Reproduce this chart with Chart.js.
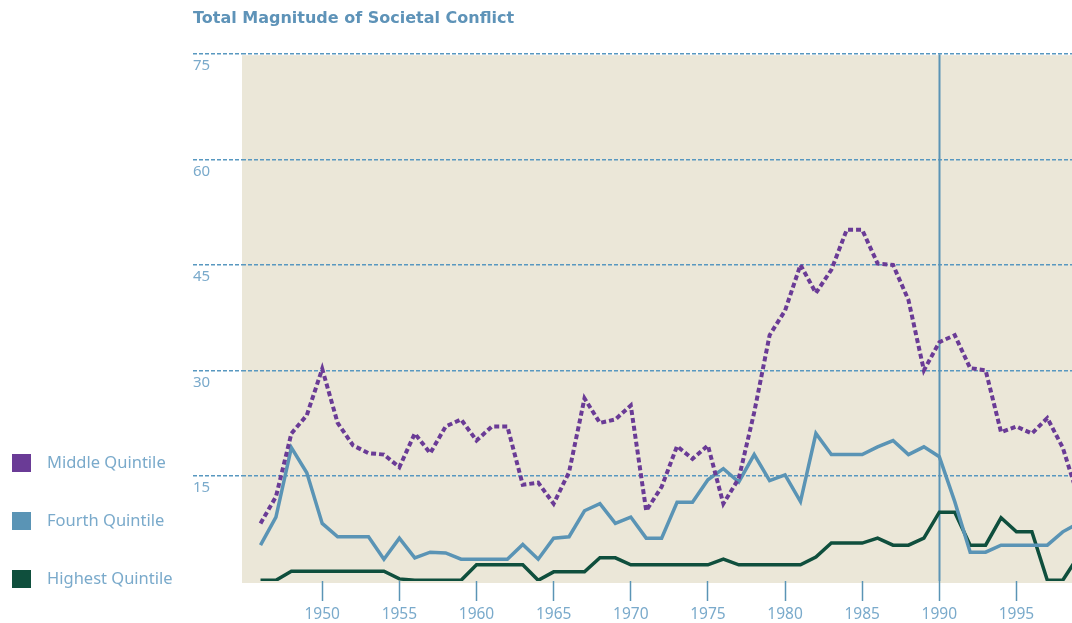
<!DOCTYPE html>
<html><head><meta charset="utf-8">
<style>html,body{margin:0;padding:0;background:#fff;}#wrap{width:1072px;height:623px;position:relative;overflow:hidden;}</style>
<script src="https://cdn.jsdelivr.net/npm/chart.js@4.4.1/dist/chart.umd.min.js"></script>
</head><body><div id="wrap"><canvas id="c" width="1072" height="623"></canvas></div>
<script>
const years = [1946,1947,1948,1949,1950,1951,1952,1953,1954,1955,1956,1957,1958,1959,1960,1961,1962,1963,1964,1965,1966,1967,1968,1969,1970,1971,1972,1973,1974,1975,1976,1977,1978,1979,1980,1981,1982,1983,1984,1985,1986,1987,1988,1989,1990,1991,1992,1993,1994,1995,1996,1997,1998,1999];
const middleQuintile = [8.2,12,21,23.6,30.2,22.5,19.3,18.2,18,16.2,21,18.2,22,23,20,22,22,13.7,14,11,15.5,26,22.5,23,25,10,13.4,19.2,17.4,19.3,11,14.6,24,35,38.5,45,41,44.3,50,50,45.2,45,40,30,34,35,30.3,30,21.2,22,21,23.2,19,12];
const fourthQuintile = [5.1,9.1,19,15.4,8.2,6.3,6.3,6.3,3.1,6.1,3.3,4.1,4,3.1,3.1,3.1,3.1,5.2,3.1,6.1,6.3,10,11,8.2,9.1,6.1,6.1,11.2,11.2,14.4,16,14.1,18,14.3,15.1,11.3,21,18,18,18,19.1,20,18,19.1,17.7,11.3,4.1,4.1,5.1,5.1,5.1,5.1,7,8.2];
const highestQuintile = [0.1,0.1,1.4,1.4,1.4,1.4,1.4,1.4,1.4,0.3,0.1,0.1,0.1,0.1,2.3,2.3,2.3,2.3,0.1,1.3,1.3,1.3,3.3,3.3,2.3,2.3,2.3,2.3,2.3,2.3,3.1,2.3,2.3,2.3,2.3,2.3,3.4,5.4,5.4,5.4,6.1,5.1,5.1,6.1,9.8,9.8,5.1,5.1,9,7,7,0.1,0.1,3.5];
const seriesLabels = ['Middle Quintile','Fourth Quintile','Highest Quintile'];
const xTickYears = [1950,1955,1960,1965,1970,1975,1980,1985,1990,1995];
const yTickValues = [15,30,45,60,75];
const markerYear = 1990;
const titleText = 'Total Magnitude of Societal Conflict';

const C_PURPLE = '#6a3b96';
const C_BLUE = '#5a94b5';
const C_GREEN = '#0f4f3d';
const C_TEXT = '#7aaacb';
const C_GRID = '#5898c0';
const C_BG = '#ebe7d8';

const toPts = arr => years.map((y, i) => ({x: y, y: arr[i]}));

const bgPlugin = {
  id: 'bg',
  beforeDraw(chart) {
    const {ctx, chartArea: a} = chart;
    ctx.save();
    ctx.fillStyle = C_BG;
    ctx.fillRect(a.left, a.top + 1, a.right - a.left, a.bottom - a.top + 1);
    ctx.restore();
  }
};
const markerPlugin = {
  id: 'marker',
  beforeDatasetsDraw(chart) {
    const {ctx, chartArea: a, scales} = chart;
    const x = Math.round(scales.x.getPixelForValue(markerYear)) + 0.5;
    ctx.save();
    ctx.strokeStyle = C_BLUE;
    ctx.lineWidth = 2;
    ctx.beginPath();
    ctx.moveTo(x, a.top);
    ctx.lineTo(x, a.bottom);
    ctx.stroke();
    ctx.restore();
  }
};
const legendPlugin = {
  id: 'sideLegend',
  afterDraw(chart) {
    const {ctx} = chart;
    const ys = [463, 521, 579];
    ctx.save();
    chart.data.datasets.forEach((ds, i) => {
      ctx.fillStyle = ds.borderColor;
      ctx.fillRect(12, ys[i] - 9, 19, 18);
      ctx.fillStyle = C_TEXT;
      ctx.font = '16.5px "Noto Sans"';
      ctx.textBaseline = 'middle';
      ctx.textAlign = 'left';
      ctx.fillText(ds.label, 47, ys[i]);
    });
    ctx.restore();
  }
};

new Chart(document.getElementById('c'), {
  type: 'line',
  data: {
    datasets: [
      {label: seriesLabels[0], data: toPts(middleQuintile), borderColor: C_PURPLE, borderWidth: 4, borderDash: [5, 3], pointRadius: 0, tension: 0, fill: false},
      {label: seriesLabels[1], data: toPts(fourthQuintile), borderColor: C_BLUE, borderWidth: 3.5, pointRadius: 0, tension: 0, fill: false},
      {label: seriesLabels[2], data: toPts(highestQuintile), borderColor: C_GREEN, borderWidth: 3.5, pointRadius: 0, tension: 0, fill: false}
    ]
  },
  options: {
    responsive: false,
    animation: false,
    devicePixelRatio: 1,
    layout: {padding: {left: 193, top: 0, right: 0, bottom: 0}},
    plugins: {
      legend: {display: false},
      tooltip: {enabled: false},
      title: {display: true, text: titleText, align: 'start', color: '#5e93b8',
        font: {family: '"DejaVu Sans"', size: 16, weight: 'bold'}, padding: {top: 9, bottom: 26}}
    },
    scales: {
      x: {
        type: 'linear', min: 1944.8, max: 1998.6,
        afterBuildTicks: s => { s.ticks = xTickYears.map(v => ({value: v})); },
        afterFit: s => { s.height = 42; },
        border: {display: false},
        grid: {drawOnChartArea: false, drawTicks: true, tickLength: 20, tickColor: C_BLUE, tickWidth: 1.5},
        ticks: {color: C_TEXT, padding: 4, font: {family: '"Noto Sans"', size: 15.5}, maxRotation: 0, callback: v => String(v)}
      },
      y: {
        min: 0, max: 75,
        afterBuildTicks: s => { s.ticks = yTickValues.map(v => ({value: v})); },
        afterFit: s => { s.width = 49; },
        border: {display: false, dash: [4, 2]},
        grid: {color: C_GRID, lineWidth: 1.5, drawTicks: true, tickLength: 49, tickColor: C_GRID, tickWidth: 1.5, tickBorderDash: [4, 2]},
        ticks: {color: C_TEXT, crossAlign: 'far', labelOffset: 12, padding: 0, font: {family: '"Noto Sans"', size: 15}}
      }
    }
  },
  plugins: [bgPlugin, markerPlugin, legendPlugin]
});
</script></body></html>
